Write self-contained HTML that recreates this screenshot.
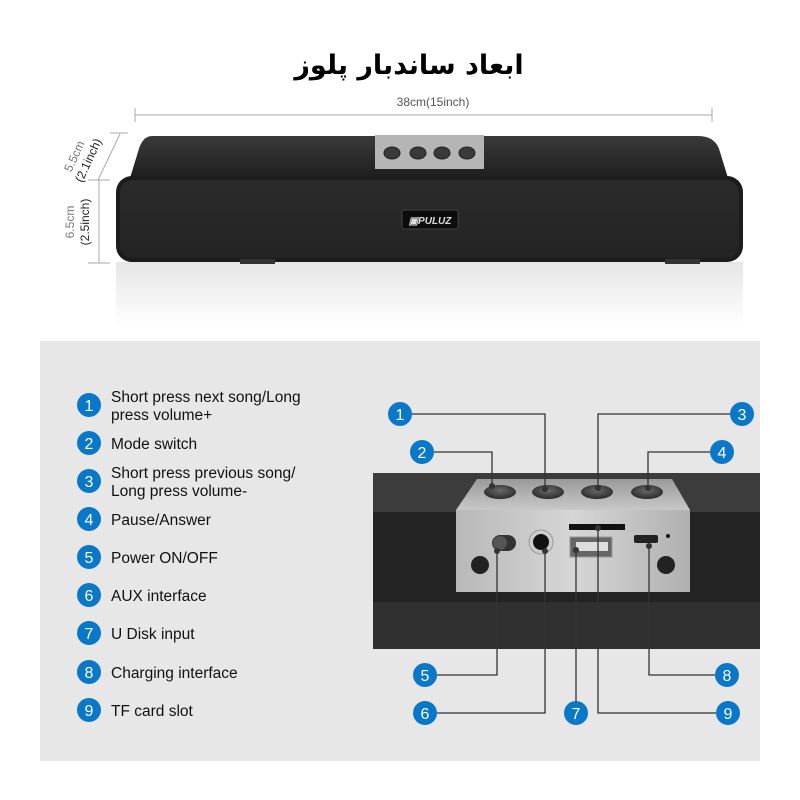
<!DOCTYPE html>
<html><head><meta charset="utf-8"><style>
html,body{margin:0;padding:0;background:#fff;width:800px;height:800px;overflow:hidden}
svg{display:block}
</style></head><body>
<svg width="800" height="800" viewBox="0 0 800 800" xmlns="http://www.w3.org/2000/svg" font-family="Liberation Sans, sans-serif">
<defs>
<linearGradient id="top" x1="0" y1="0" x2="0" y2="1"><stop offset="0" stop-color="#3a3a3a"/><stop offset="1" stop-color="#1e1e1e"/></linearGradient>
<linearGradient id="front" x1="0" y1="0" x2="0" y2="1"><stop offset="0" stop-color="#2a2a2a"/><stop offset="1" stop-color="#242424"/></linearGradient>
<linearGradient id="refl" x1="0" y1="0" x2="0" y2="1"><stop offset="0" stop-color="#e6e6e6"/><stop offset="1" stop-color="#ffffff"/></linearGradient>
<linearGradient id="silv" x1="0" y1="0" x2="1" y2="0"><stop offset="0" stop-color="#b8b8b8"/><stop offset="0.5" stop-color="#d6d6d6"/><stop offset="1" stop-color="#b0b0b0"/></linearGradient>
<linearGradient id="stop" x1="0" y1="0" x2="0" y2="1"><stop offset="0" stop-color="#9a9a9a"/><stop offset="1" stop-color="#c8c8c8"/></linearGradient>
<radialGradient id="btn" cx="0.5" cy="0.4" r="0.6"><stop offset="0" stop-color="#6a6a6a"/><stop offset="1" stop-color="#2a2a2a"/></radialGradient>
</defs>

<text x="409" y="74" text-anchor="middle" font-family="DejaVu Sans, sans-serif" font-weight="bold" font-size="27" fill="#000" direction="rtl">ابعاد ساندبار پلوز</text>

<text x="433" y="106" text-anchor="middle" font-size="12" fill="#555">38cm(15inch)</text>
<line x1="135" y1="115" x2="712" y2="115" stroke="#aaa" stroke-width="1"/>
<line x1="135" y1="108" x2="135" y2="122" stroke="#aaa"/>
<line x1="712" y1="108" x2="712" y2="122" stroke="#aaa"/>
<line x1="120" y1="134" x2="98" y2="180" stroke="#aaa"/>
<line x1="110" y1="133" x2="128" y2="133" stroke="#aaa"/>
<line x1="99" y1="180" x2="99" y2="263" stroke="#aaa"/>
<line x1="88" y1="180" x2="110" y2="180" stroke="#aaa"/>
<line x1="88" y1="263" x2="110" y2="263" stroke="#aaa"/>
<text transform="translate(78,158) rotate(-65)" text-anchor="middle" font-size="12" fill="#777">5.5cm</text>
<text transform="translate(92,162) rotate(-65)" text-anchor="middle" font-size="12" fill="#222">(2.1inch)</text>
<text transform="translate(74,222) rotate(-90)" text-anchor="middle" font-size="12" fill="#777">6.5cm</text>
<text transform="translate(89,222) rotate(-90)" text-anchor="middle" font-size="12" fill="#222">(2.5inch)</text>

<rect x="116" y="262" width="627" height="65" fill="url(#refl)"/>
<path d="M152 136 H698 Q716 136 720 152 L728 178 H130 L138 152 Q142 136 152 136Z" fill="url(#top)"/>
<rect x="116" y="176" width="627" height="86" rx="16" fill="#1c1c1c"/>
<rect x="120" y="180" width="619" height="78" rx="13" fill="url(#front)"/>
<rect x="375" y="135" width="109" height="34" fill="#b5b5b5"/>
<g fill="#3a3a3a" stroke="#222"><ellipse cx="392" cy="153" rx="8" ry="6"/><ellipse cx="418" cy="153" rx="8" ry="6"/><ellipse cx="442" cy="153" rx="8" ry="6"/><ellipse cx="467" cy="153" rx="8" ry="6"/></g>
<rect x="402" y="210" width="56" height="19" rx="2" fill="#0c0c0c" stroke="#444"/>
<text x="430" y="224" text-anchor="middle" font-size="10" font-weight="bold" font-style="italic" fill="#ddd">▣PULUZ</text>
<rect x="240" y="259" width="35" height="5" fill="#333"/><rect x="665" y="259" width="35" height="5" fill="#333"/>

<rect x="40" y="341" width="720" height="420" fill="#e7e7e7"/>

<g font-size="15.5" fill="#111">
<text x="111" y="402">Short press next song/Long</text>
<text x="111" y="420">press volume+</text>
<text x="111" y="449">Mode switch</text>
<text x="111" y="478">Short press previous song/</text>
<text x="111" y="496">Long press volume-</text>
<text x="111" y="525">Pause/Answer</text>
<text x="111" y="563">Power ON/OFF</text>
<text x="111" y="601">AUX interface</text>
<text x="111" y="639">U Disk input</text>
<text x="111" y="678">Charging interface</text>
<text x="111" y="716">TF card slot</text>
</g>
<g fill="#0a78c8">
<circle cx="89" cy="405" r="12"/><circle cx="89" cy="443" r="12"/><circle cx="89" cy="481" r="12"/><circle cx="89" cy="519" r="12"/><circle cx="89" cy="557" r="12"/><circle cx="89" cy="595" r="12"/><circle cx="89" cy="633" r="12"/><circle cx="89" cy="672" r="12"/><circle cx="89" cy="710" r="12"/>
</g>
<g fill="#fff" font-size="16" text-anchor="middle">
<text x="89" y="411">1</text><text x="89" y="449">2</text><text x="89" y="487">3</text><text x="89" y="525">4</text><text x="89" y="563">5</text><text x="89" y="601">6</text><text x="89" y="639">7</text><text x="89" y="678">8</text><text x="89" y="716">9</text>
</g>

<rect x="373" y="473" width="387" height="176" fill="#2e2e2e"/>
<rect x="373" y="473" width="387" height="39" fill="#3c3c3c"/>
<rect x="373" y="512" width="387" height="90" fill="#232323"/>
<rect x="373" y="602" width="387" height="47" fill="#303030"/>
<path d="M477 479 H672 L690 510 H456Z" fill="url(#stop)"/>
<rect x="456" y="510" width="234" height="82" fill="url(#silv)"/>
<g fill="url(#btn)"><ellipse cx="500" cy="492" rx="16" ry="7"/><ellipse cx="548" cy="492" rx="16" ry="7"/><ellipse cx="597" cy="492" rx="16" ry="7"/><ellipse cx="647" cy="492" rx="16" ry="7"/></g>
<rect x="492" y="535" width="24" height="16" rx="8" fill="#333"/>
<circle cx="500" cy="543" r="7" fill="#555"/>
<circle cx="480" cy="565" r="9" fill="#222"/><circle cx="666" cy="565" r="9" fill="#222"/>
<circle cx="541" cy="542" r="12" fill="#ccc" stroke="#999"/><circle cx="541" cy="542" r="8" fill="#111"/>
<rect x="569" y="524" width="56" height="6" fill="#111"/>
<rect x="570" y="537" width="42" height="20" fill="#666" stroke="#999"/>
<rect x="576" y="542" width="32" height="9" fill="#ddd"/>
<rect x="634" y="535" width="24" height="8" rx="2" fill="#222"/>
<circle cx="668" cy="536" r="2" fill="#111"/>

<g stroke="#333" stroke-width="1.3" fill="none">
<polyline points="412,414 545,414 545,490"/>
<polyline points="434,452 492,452 492,486"/>
<polyline points="730,414 598,414 598,487"/>
<polyline points="710,452 648,452 648,488"/>
<polyline points="497,551 497,675 437,675"/>
<polyline points="545,551 545,713 437,713"/>
<polyline points="576,550 576,701"/>
<polyline points="649,546 649,675 715,675"/>
<polyline points="598,528 598,713 716,713"/>
</g>
<g fill="#333"><circle cx="492" cy="486" r="3"/><circle cx="545" cy="489" r="3"/><circle cx="598" cy="488" r="3"/><circle cx="648" cy="488" r="3"/><circle cx="497" cy="551" r="3"/><circle cx="545" cy="551" r="3"/><circle cx="576" cy="550" r="3"/><circle cx="649" cy="546" r="3"/><circle cx="598" cy="528" r="3"/></g>
<g fill="#0a78c8">
<circle cx="400" cy="414" r="12"/><circle cx="422" cy="452" r="12"/><circle cx="742" cy="414" r="12"/><circle cx="722" cy="452" r="12"/><circle cx="425" cy="675" r="12"/><circle cx="425" cy="713" r="12"/><circle cx="576" cy="713" r="12"/><circle cx="727" cy="675" r="12"/><circle cx="728" cy="713" r="12"/>
</g>
<g fill="#fff" font-size="16" text-anchor="middle">
<text x="400" y="420">1</text><text x="422" y="458">2</text><text x="742" y="420">3</text><text x="722" y="458">4</text><text x="425" y="681">5</text><text x="425" y="719">6</text><text x="576" y="719">7</text><text x="727" y="681">8</text><text x="728" y="719">9</text>
</g>
</svg>
</body></html>
